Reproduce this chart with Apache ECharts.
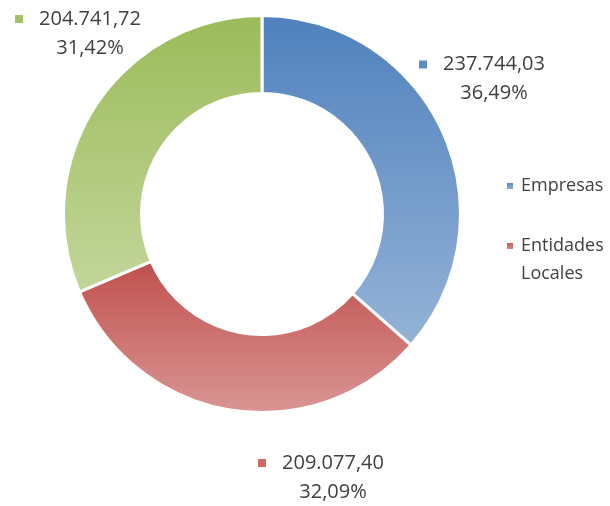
<!DOCTYPE html>
<html>
<head>
<meta charset="utf-8">
<script src="https://cdn.jsdelivr.net/npm/echarts@6/dist/echarts.min.js"></script>
<style>
  html, body { margin: 0; padding: 0; background: #ffffff; }
  #chart { width: 610px; height: 506px; }
</style>
</head>
<body>
<div id="chart"></div>
<script>
// Importes por tipo de beneficiario
const categories = ['Empresas', 'Entidades Locales', 'Otros'];
const values = [237744.03, 209077.40, 204741.72];
const legendItems = ['Empresas', 'Entidades Locales'];

// Degradado vertical de cada sector (arriba oscuro, abajo claro) y color del marcador
const gradTop = ['#4f81bd', '#c0504d', '#9bbb59'];
const gradBottom = ['#95b3d7', '#d99694', '#c3d69b'];
const markerColors = ['#5b8ac6', '#cf6a68', '#a3c266'];

// Posición (centro, px) de cada etiqueta de datos
const labelAnchors = [[482, 79], [321, 477.5], [78, 33.5]];

const total = values.reduce((a, b) => a + b, 0);

function formatEs(v) {
  const parts = v.toFixed(2).split('.');
  const intPart = parts[0].replace(/\B(?=(\d{3})+(?!\d))/g, '.');
  return intPart + ',' + parts[1];
}
function pctEs(v) {
  return (v / total * 100).toFixed(2).replace('.', ',') + '%';
}

const FONT = '"Open Sans", "Liberation Sans", sans-serif';
const TEXT = '#404040';

const rich = {
  v: { fontSize: 20, fontFamily: FONT, color: TEXT, padding: [0, 0, 0, 16], lineHeight: 29 },
  p: { fontSize: 20, fontFamily: FONT, color: TEXT, padding: [0, 0, 0, 24], lineHeight: 29 }
};
markerColors.forEach((c, i) => {
  rich['m' + i] = { width: 8, height: 8, backgroundColor: c };
});

const data = categories.map((name, i) => ({
  name: name,
  value: values[i],
  itemStyle: {
    color: new echarts.graphic.LinearGradient(0, 0, 0, 1, [
      { offset: 0, color: gradTop[i] },
      { offset: 1, color: gradBottom[i] }
    ])
  },
  label: {
    formatter: '{m' + i + '|}{v|' + formatEs(values[i]) + '}\n{p|' + pctEs(values[i]) + '}'
  }
}));

const chart = echarts.init(document.getElementById('chart'), null, { renderer: 'canvas' });

chart.setOption({
  animation: false,
  backgroundColor: '#ffffff',
  legend: {
    orient: 'vertical',
    left: 505,
    top: 172,
    padding: 0,
    itemGap: 4,
    itemWidth: 8,
    itemHeight: 8,
    icon: 'rect',
    selectedMode: false,
    // Nombres largos en dos líneas, con el marcador alineado a la primera
    formatter: function (name) {
      return name.indexOf(' ') > 0 ? '\n' + name.replace(' ', '\n') : name;
    },
    textStyle: {
      fontFamily: FONT,
      fontSize: 18,
      color: TEXT,
      lineHeight: 28,
      padding: [0, 0, 0, 2]
    },
    data: legendItems
  },
  series: [{
    type: 'pie',
    center: [262, 214],
    radius: [120.5, 198.5],
    startAngle: 90,
    clockwise: true,
    avoidLabelOverlap: false,
    emphasis: { disabled: true },
    itemStyle: { borderColor: '#ffffff', borderWidth: 3 },
    label: {
      show: true,
      position: 'outside',
      align: 'center',
      rich: rich
    },
    labelLine: { show: false },
    labelLayout: function (params) {
      const p = labelAnchors[params.dataIndex];
      return { x: p[0], y: p[1], align: 'center', verticalAlign: 'middle' };
    },
    data: data
  }]
});
</script>
</body>
</html>
